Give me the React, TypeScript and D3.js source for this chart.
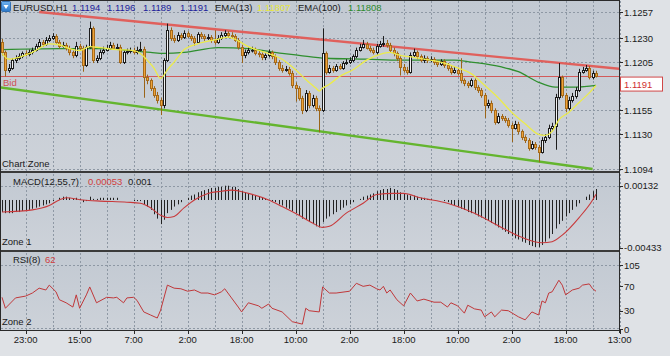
import React from "react";
import * as d3 from "d3";

const W = 670;
const H = 356;

// ---------- price data (H1 candles, open = previous close) ----------
const firstOpen = 1.1226;
const closes = [
  1.1215, 1.1197, 1.1199, 1.1207, 1.1209, 1.1211, 1.1214, 1.1213, 1.1215, 1.1218,
  1.1222, 1.1226, 1.1224, 1.1228, 1.1230, 1.1232, 1.1226, 1.1222, 1.1223, 1.1220,
  1.1215, 1.1212, 1.1222, 1.1220, 1.1202, 1.1221, 1.1240, 1.1207, 1.1209, 1.1215,
  1.1218, 1.1220, 1.1223, 1.1220, 1.1221, 1.1205, 1.1215, 1.1216, 1.1218, 1.1215,
  1.1218, 1.1219, 1.1189, 1.1186, 1.1178, 1.1171, 1.1166, 1.1160, 1.1207, 1.1238,
  1.1230, 1.1228, 1.1233, 1.1231, 1.1235, 1.1232, 1.1230, 1.1226, 1.1234, 1.1232,
  1.1230, 1.1231, 1.1228, 1.1226, 1.1230, 1.1233, 1.1235, 1.1233, 1.1232, 1.1228,
  1.1221, 1.1212, 1.1215, 1.1218, 1.1218, 1.1214, 1.1213, 1.1210, 1.1212, 1.1215,
  1.1211, 1.1205, 1.1199, 1.1197, 1.1198, 1.1194, 1.1181, 1.1178, 1.1168, 1.1155,
  1.1173, 1.1160, 1.1168, 1.1157, 1.1155, 1.1214, 1.1195, 1.1199, 1.1197, 1.1201,
  1.1199, 1.1204, 1.1205, 1.1207, 1.1211, 1.1218, 1.1221, 1.1224, 1.1220, 1.1218,
  1.1215, 1.1222, 1.1224, 1.1225, 1.1223, 1.1218, 1.1214, 1.1209, 1.1200, 1.1197,
  1.1195, 1.1212, 1.1215, 1.1211, 1.1207, 1.1209, 1.1207, 1.1208, 1.1205, 1.1203,
  1.1206, 1.1202, 1.1199, 1.1195, 1.1197, 1.1194, 1.1186, 1.1183, 1.1181, 1.1186,
  1.1179, 1.1176, 1.1171, 1.1160, 1.1163, 1.1155, 1.1143, 1.1149, 1.1147, 1.1145,
  1.1140, 1.1137, 1.1141, 1.1133, 1.1127, 1.1124, 1.1116, 1.1120, 1.1117, 1.1112,
  1.1124, 1.1127, 1.1137, 1.1139, 1.1169, 1.1189, 1.1171, 1.1157, 1.1166, 1.1170,
  1.1176, 1.1195, 1.1197, 1.1199, 1.1189, 1.1194, 1.1191,
];
const highs = [
  1.1229, 1.1217, 1.1203, 1.1209, 1.1212, 1.1214, 1.1216, 1.1217, 1.1218, 1.1220,
  1.1224, 1.1229, 1.1228, 1.1231, 1.1233, 1.1235, 1.1234, 1.1228, 1.1226, 1.1225,
  1.1222, 1.1217, 1.1226, 1.1224, 1.1222, 1.1223, 1.1247, 1.1242, 1.1212, 1.1218,
  1.1221, 1.1223, 1.1226, 1.1225, 1.1224, 1.1223, 1.1217, 1.1219, 1.1220, 1.1220,
  1.1221, 1.1226, 1.1221, 1.1192, 1.1188, 1.1180, 1.1174, 1.1168, 1.1209, 1.1245,
  1.1241, 1.1233, 1.1236, 1.1235, 1.1238, 1.1237, 1.1234, 1.1232, 1.1236, 1.1236,
  1.1234, 1.1234, 1.1233, 1.1238, 1.1233, 1.1236, 1.1238, 1.1237, 1.1236, 1.1234,
  1.1230, 1.1223, 1.1218, 1.1220, 1.1221, 1.1220, 1.1217, 1.1215, 1.1214, 1.1218,
  1.1217, 1.1213, 1.1207, 1.1202, 1.1201, 1.1200, 1.1196, 1.1184, 1.1180, 1.1170,
  1.1176, 1.1175, 1.1171, 1.1170, 1.1160, 1.1240, 1.1216, 1.1202, 1.1201, 1.1203,
  1.1203, 1.1206, 1.1208, 1.1210, 1.1213, 1.1220, 1.1224, 1.1228, 1.1226, 1.1222,
  1.1220, 1.1224, 1.1227, 1.1232, 1.1228, 1.1225, 1.1220, 1.1216, 1.1211, 1.1203,
  1.1200, 1.1215, 1.1219, 1.1217, 1.1213, 1.1212, 1.1211, 1.1211, 1.1210, 1.1207,
  1.1208, 1.1208, 1.1204, 1.1201, 1.1200, 1.1199, 1.1209, 1.1188, 1.1185, 1.1188,
  1.1188, 1.1181, 1.1178, 1.1173, 1.1166, 1.1165, 1.1157, 1.1152, 1.1151, 1.1149,
  1.1147, 1.1142, 1.1144, 1.1143, 1.1135, 1.1129, 1.1126, 1.1123, 1.1122, 1.1119,
  1.1127, 1.1130, 1.1140, 1.1142, 1.1172, 1.1204, 1.1191, 1.1173, 1.1169, 1.1173,
  1.1179, 1.1198, 1.1200, 1.1202, 1.1201, 1.1196, 1.1196,
];
const lows = [
  1.1212, 1.1190, 1.1194, 1.1197, 1.1204, 1.1207, 1.1209, 1.1211, 1.1211, 1.1213,
  1.1216, 1.1220, 1.1221, 1.1222, 1.1226, 1.1228, 1.1224, 1.1219, 1.1220, 1.1217,
  1.1212, 1.1209, 1.1210, 1.1217, 1.1195, 1.1200, 1.1219, 1.1204, 1.1204, 1.1207,
  1.1213, 1.1216, 1.1218, 1.1218, 1.1218, 1.1203, 1.1203, 1.1213, 1.1214, 1.1213,
  1.1213, 1.1216, 1.1168, 1.1182, 1.1175, 1.1168, 1.1162, 1.1150, 1.1157, 1.1205,
  1.1227, 1.1225, 1.1226, 1.1228, 1.1229, 1.1230, 1.1227, 1.1222, 1.1224, 1.1229,
  1.1227, 1.1228, 1.1225, 1.1223, 1.1224, 1.1228, 1.1231, 1.1230, 1.1229, 1.1226,
  1.1218, 1.1204, 1.1209, 1.1213, 1.1215, 1.1212, 1.1210, 1.1207, 1.1207, 1.1210,
  1.1208, 1.1202, 1.1196, 1.1194, 1.1195, 1.1191, 1.1178, 1.1164, 1.1165, 1.1151,
  1.1153, 1.1157, 1.1158, 1.1154, 1.1132, 1.1153, 1.1192, 1.1193, 1.1194, 1.1195,
  1.1197, 1.1197, 1.1202, 1.1203, 1.1205, 1.1209, 1.1216, 1.1219, 1.1218, 1.1215,
  1.1213, 1.1213, 1.1220, 1.1221, 1.1220, 1.1215, 1.1211, 1.1206, 1.1191, 1.1194,
  1.1192, 1.1193, 1.1210, 1.1208, 1.1205, 1.1204, 1.1204, 1.1205, 1.1202, 1.1200,
  1.1201, 1.1199, 1.1196, 1.1192, 1.1193, 1.1191, 1.1183, 1.1180, 1.1178, 1.1179,
  1.1176, 1.1173, 1.1168, 1.1147, 1.1157, 1.1152, 1.1140, 1.1141, 1.1144, 1.1142,
  1.1137, 1.1122, 1.1135, 1.1130, 1.1124, 1.1121, 1.1113, 1.1114, 1.1114, 1.1101,
  1.1110, 1.1121, 1.1125, 1.1134, 1.1114, 1.1166, 1.1168, 1.1153, 1.1155, 1.1163,
  1.1167, 1.1174, 1.1193, 1.1195, 1.1187, 1.1187, 1.1189,
];

// ---------- indicator readings (bar index, value) ----------
const ema13Bars = [0, 2, 5, 9, 14, 17, 20, 23, 26, 29, 34, 39, 41, 43, 45, 47, 49, 51, 54, 58, 63, 67, 70, 73, 78, 83, 87, 90, 93, 94, 95, 97, 100, 104, 108, 112, 115, 118, 122, 127, 131, 135, 139, 143, 147, 151, 155, 159, 161, 163, 165, 168, 171, 174, 176];
const ema13Vals = [1.1214, 1.1208, 1.1210, 1.1215, 1.1224, 1.1223, 1.1219, 1.1217, 1.1221, 1.1220, 1.1218, 1.1217, 1.1214, 1.1207, 1.1199, 1.1188, 1.1197, 1.1205, 1.1218, 1.1224, 1.1228, 1.1231, 1.1227, 1.1221, 1.1215, 1.1208, 1.1197, 1.1187, 1.1178, 1.1175, 1.1178, 1.1182, 1.1190, 1.1197, 1.1207, 1.1213, 1.1215, 1.1212, 1.1210, 1.1207, 1.1204, 1.1199, 1.1193, 1.1181, 1.1168, 1.1153, 1.1141, 1.1130, 1.1129, 1.1133, 1.1145, 1.1153, 1.1163, 1.1173, 1.11807];
const ema100Bars = [0, 17, 29, 44, 48, 54, 64, 73, 83, 88, 96, 108, 118, 134, 139, 148, 153, 159, 164, 170, 176];
const ema100Vals = [1.1218, 1.1219, 1.1219, 1.1215, 1.1214, 1.1215, 1.1220, 1.1219, 1.1214, 1.1212, 1.1209, 1.1208, 1.1207, 1.1207, 1.1205, 1.1200, 1.1195, 1.1184, 1.1179, 1.1179, 1.11808];

const macdHist = [
  -0.0011, -0.0012, -0.0012, -0.0012, -0.0011, -0.0011, -0.0010, -0.0010, -0.0009, -0.0008,
  -0.0007, -0.0006, -0.0005, -0.0004, -0.0003, -0.0001, 0.0000, 0.0002, 0.0003, 0.0003,
  0.0002, 0.0001, 0.0002, 0.0001, -0.0002, -0.0001, 0.0003, 0.0001, 0.0001, 0.0002,
  0.0002, 0.0002, 0.0002, 0.0002, 0.0002, 0.0000, 0.0000, 0.0000, 0.0000, -0.0001,
  -0.0001, -0.0001, -0.0004, -0.0006, -0.0009, -0.0013, -0.0017, -0.0022, -0.0018, -0.0012,
  -0.0009, -0.0006, -0.0004, -0.0002, 0.0000, 0.0002, 0.0004, 0.0005, 0.0007, 0.0008,
  0.0009, 0.0010, 0.0011, 0.0011, 0.0012, 0.0012, 0.0013, 0.0013, 0.0012, 0.0012,
  0.0010, 0.0008, 0.0007, 0.0006, 0.0005, 0.0004, 0.0003, 0.0002, 0.0001, 0.0000,
  -0.0001, -0.0002, -0.0004, -0.0005, -0.0007, -0.0008, -0.0010, -0.0012, -0.0014, -0.0017,
  -0.0018, -0.0020, -0.0022, -0.0024, -0.0025, -0.0020, -0.0017, -0.0015, -0.0013, -0.0011,
  -0.0009, -0.0007, -0.0005, -0.0004, -0.0002, 0.0000, 0.0001, 0.0003, 0.0004, 0.0005,
  0.0006, 0.0008, 0.0009, 0.0010, 0.0010, 0.0011, 0.0010, 0.0009, 0.0007, 0.0006,
  0.0005, 0.0004, 0.0004, 0.0003, 0.0002, 0.0002, 0.0001, 0.0001, 0.0000, 0.0000,
  0.0000, -0.0001, -0.0002, -0.0004, -0.0005, -0.0006, -0.0008, -0.0009, -0.0011, -0.0012,
  -0.0013, -0.0015, -0.0016, -0.0018, -0.0019, -0.0021, -0.0023, -0.0025, -0.0027, -0.0029,
  -0.0031, -0.0033, -0.0035, -0.0036, -0.0038, -0.0039, -0.0041, -0.0042, -0.0043, -0.0043,
  -0.0041, -0.0038, -0.0035, -0.0031, -0.0026, -0.0022, -0.0019, -0.0015, -0.0012, -0.0009,
  -0.0006, -0.0003, 0.0000, 0.0003, 0.0005, 0.0008, 0.0010,
];
const signalBars = [0, 9, 14, 17, 19, 24, 29, 37, 41, 44, 47, 49, 51, 54, 57, 61, 65, 68, 73, 79, 83, 88, 92, 95, 97, 102, 107, 111, 116, 119, 124, 132, 140, 148, 154, 160, 163, 166, 171, 175, 176];
const signalVals = [-0.0011, -0.0009, -0.0005, 0.0000, 0.0002, 0.0000, -0.0001, -0.0002, -0.0003, -0.0007, -0.0014, -0.0016, -0.0015, -0.0007, 0.0000, 0.0006, 0.0008, 0.0009, 0.0006, 0.0000, -0.0006, -0.0014, -0.0021, -0.0025, -0.0024, -0.0012, -0.0003, 0.0005, 0.0006, 0.0006, 0.0002, -0.0003, -0.0012, -0.0025, -0.0034, -0.0039, -0.0038, -0.0032, -0.0016, 0.0000, 0.00053];

const rsiBars = [0, 1, 4, 7, 9, 11, 13, 14, 16, 17, 19, 21, 22, 23, 25, 26, 28, 31, 33, 34, 36, 37, 39, 40, 42, 44, 46, 47, 49, 51, 53, 55, 57, 59, 61, 63, 65, 66, 68, 70, 71, 73, 76, 77, 79, 80, 83, 86, 89, 90, 91, 94, 95, 97, 99, 103, 105, 107, 109, 111, 112, 113, 114, 115, 117, 119, 121, 123, 125, 128, 130, 132, 133, 135, 137, 138, 140, 142, 143, 145, 146, 148, 150, 153, 155, 157, 159, 160, 161, 162, 163, 165, 166, 167, 169, 171, 172, 174, 175, 176];
const rsiVals = [52, 34, 51, 54, 59, 67, 64, 72, 61, 48, 43, 36, 56, 34, 56, 69, 43, 52, 51, 52, 43, 51, 52, 47, 28, 23, 18, 31, 72, 67, 66, 62, 64, 59, 59, 56, 61, 66, 51, 36, 28, 43, 38, 34, 41, 34, 28, 12, 8, 34, 30, 28, 69, 59, 59, 62, 75, 70, 72, 66, 64, 70, 59, 64, 48, 38, 59, 46, 49, 44, 44, 36, 43, 38, 26, 39, 33, 31, 20, 28, 20, 31, 30, 20, 15, 28, 23, 46, 43, 59, 61, 80, 72, 56, 64, 67, 72, 74, 66, 62];

// ---------- axes / annotations ----------
const priceTicks = [1.1257, 1.123, 1.1205, 1.1155, 1.113, 1.1094];
const bid = 1.1191;
const ohlcLabels = ["1.1194", "1.1196", "1.1189", "1.1191"];
const timeTickBars = [7, 23, 39, 55, 71, 87, 103, 119, 135, 151, 167, 183];
const timeTickLabels = ["23:00", "15:00", "7:00", "2:00", "18:00", "10:00", "2:00", "18:00", "10:00", "2:00", "18:00", "13:00"];
const macdTicks = [0.00132, -0.00433];
const rsiTicks = [105, 70, 30, 0];
const resistanceBars = [11, 183];
const resistancePrices = [1.1257, 1.1198];
const supportBars = [-1, 175];
const supportPrices = [1.1179, 1.1094];

const FONT = "'Liberation Sans', Arial, sans-serif";

export default function App() {
  const N = closes.length;
  const x = d3.scaleLinear().domain([0, N - 1]).range([2, 596]);
  const yP = d3.scaleLinear().domain([1.1094, 1.1257]).range([169, 12]);
  const yM = d3.scaleLinear().domain([-0.00433, 0.00132]).range([247.5, 185.5]);
  const yR = d3.scaleLinear().domain([0, 105]).range([329, 265]);

  const main = { top: 0, bottom: 171 };
  const macdP = { top: 173, bottom: 250 };
  const rsiP = { top: 252, bottom: 330 };
  const right = 619;

  const gridBars = d3.range(7, 184, 8);

  const opens = closes.map((c, i) => (i === 0 ? firstOpen : closes[i - 1]));

  const lineFromPairs = (bars: number[], vals: number[], ys: (v: number) => number, curve: any) =>
    d3.line<number>().x((_, i) => x(bars[i])).y((v) => ys(v)).curve(curve)(vals) || "";

  const ema13Path = lineFromPairs(ema13Bars, ema13Vals, yP, d3.curveMonotoneX);
  const ema100Path = lineFromPairs(ema100Bars, ema100Vals, yP, d3.curveMonotoneX);
  const signalPath = lineFromPairs(signalBars, signalVals, yM, d3.curveMonotoneX);
  const rsiPath = lineFromPairs(rsiBars, rsiVals, yR, d3.curveLinear);

  const panelRect = (p: { top: number; bottom: number }, key: string) => (
    <rect key={key} x={0} y={p.top} width={right} height={p.bottom - p.top} fill="url(#bg)" />
  );

  const vGrid = (p: { top: number; bottom: number }, key: string) => (
    <g key={key}>
      {gridBars.map((b) => (
        <line key={b} x1={Math.round(x(b)) + 0.5} x2={Math.round(x(b)) + 0.5} y1={p.top + 1} y2={p.bottom} stroke="#8e98a4" strokeDasharray="2,2" strokeWidth={1} />
      ))}
    </g>
  );

  return (
    <div style={{ position: "fixed", left: 0, top: 0, width: W, height: H, background: "#dfe2e6" }}>
      <svg width={W} height={H} style={{ display: "block", fontFamily: FONT }}>
        <defs>
          <linearGradient id="bg" x1="0" y1="0" x2="0" y2="1">
            <stop offset="0" stopColor="#c2c9d2" />
            <stop offset="1" stopColor="#cdd2d9" />
          </linearGradient>
          <linearGradient id="icon" x1="0" y1="0" x2="0" y2="1">
            <stop offset="0" stopColor="#6fb2ee" />
            <stop offset="1" stopColor="#2b78c8" />
          </linearGradient>
          <clipPath id="clipMain">
            <rect x={1} y={main.top + 1} width={right - 1} height={main.bottom - main.top - 1} />
          </clipPath>
        </defs>

        <rect x={0} y={0} width={W} height={H} fill="#dfe2e6" />

        {panelRect(main, "pm")}
        {panelRect(macdP, "pmacd")}
        {panelRect(rsiP, "prsi")}

        {vGrid(main, "gm")}
        {vGrid(macdP, "gmacd")}
        {vGrid(rsiP, "grsi")}

        {/* horizontal grid main */}
        {priceTicks.map((t) => (
          <line key={t} x1={1} x2={right} y1={Math.round(yP(t)) + 0.5} y2={Math.round(yP(t)) + 0.5} stroke="#8e98a4" strokeDasharray="2,2" />
        ))}
        <line x1={1} x2={right} y1={Math.round(yM(macdTicks[0])) + 0.5} y2={Math.round(yM(macdTicks[0])) + 0.5} stroke="#8e98a4" strokeDasharray="2,2" />
        <line x1={1} x2={right} y1={Math.round(yR(105)) + 0.5} y2={Math.round(yR(105)) + 0.5} stroke="#8e98a4" strokeDasharray="2,2" />
        <line x1={1} x2={right} y1={Math.round(yR(0)) - 0.5} y2={Math.round(yR(0)) - 0.5} stroke="#8e98a4" strokeDasharray="2,2" />

        <g clipPath="url(#clipMain)">
          {/* bid line */}
          <line x1={1} x2={right} y1={Math.round(yP(bid)) + 0.5} y2={Math.round(yP(bid)) + 0.5} stroke="#d25a5a" strokeWidth={1} />

          {/* trend lines */}
          <line x1={x(supportBars[0])} y1={yP(supportPrices[0])} x2={x(supportBars[1])} y2={yP(supportPrices[1])} stroke="#64b52e" strokeWidth={2.4} />
          <line x1={x(resistanceBars[0])} y1={yP(resistancePrices[0])} x2={x(resistanceBars[1])} y2={yP(resistancePrices[1])} stroke="#e0605c" strokeWidth={2.4} />

          {/* EMA100 */}
          <path d={ema100Path} fill="none" stroke="#2f8f2f" strokeWidth={1.3} />

          {/* candles */}
          {closes.map((c, i) => {
            const o = opens[i];
            const cx = Math.round(x(i));
            const bull = c >= o;
            const yTop = Math.round(yP(Math.max(o, c)));
            const yBot = Math.round(yP(Math.min(o, c)));
            const wick = bull ? "#1c1c1c" : "#9a6418";
            return (
              <g key={i}>
                <line x1={cx + 0.5} x2={cx + 0.5} y1={yP(highs[i])} y2={yP(lows[i])} stroke={wick} strokeWidth={1} />
                <rect
                  x={cx - 0.5}
                  y={yTop + 0.5}
                  width={2}
                  height={Math.max(yBot - yTop, 0.5)}
                  fill={bull ? "#f2f2f2" : "#eea33a"}
                  stroke={bull ? "#1c1c1c" : "#a66a1a"}
                  strokeWidth={1}
                />
              </g>
            );
          })}

          {/* EMA13 */}
          <path d={ema13Path} fill="none" stroke="#ecec4a" strokeWidth={1.3} />
        </g>

        {/* MACD */}
        {macdHist.map((v, i) => (
          <line key={i} x1={Math.round(x(i)) + 0.5} x2={Math.round(x(i)) + 0.5} y1={yM(0)} y2={yM(v)} stroke="#222" strokeWidth={1} />
        ))}
        <path d={signalPath} fill="none" stroke="#c8393b" strokeWidth={1.1} />

        {/* RSI */}
        <path d={rsiPath} fill="none" stroke="#c0383a" strokeWidth={1} />

        {/* panel borders and separators */}
        <rect x={0} y={0} width={right + 1} height={1} fill="#2a2a2a" />
        <rect x={0} y={main.bottom} width={right + 1} height={macdP.top - main.bottom} fill="#3a3a3a" />
        <rect x={0} y={macdP.bottom} width={right + 1} height={rsiP.top - macdP.bottom} fill="#3a3a3a" />
        <rect x={0} y={rsiP.bottom} width={right + 1} height={1} fill="#2a2a2a" />
        <rect x={0} y={0} width={1} height={rsiP.bottom + 1} fill="#2a2a2a" />

        {/* right axis */}
        <line x1={right + 0.5} x2={right + 0.5} y1={0} y2={rsiP.bottom + 3} stroke="#2a2a2a" />
        {priceTicks.map((t) => (
          <g key={t}>
            <line x1={right} x2={right + 4} y1={Math.round(yP(t)) + 0.5} y2={Math.round(yP(t)) + 0.5} stroke="#2a2a2a" />
            <text x={right + 5} y={yP(t) + 3.5} fontSize={9.5} fill="#1a1a1a">{t.toFixed(4)}</text>
          </g>
        ))}
        <rect x={right + 1.5} y={yP(bid) + 1.5} width={42} height={14} fill="#ffffff" stroke="#d04848" strokeWidth={1} />
        <text x={right + 5} y={yP(bid) + 12} fontSize={9.5} fill="#d03030">{bid.toFixed(4)}</text>

        {macdTicks.map((t) => (
          <g key={t}>
            <line x1={right} x2={right + 4} y1={Math.round(yM(t)) + 0.5} y2={Math.round(yM(t)) + 0.5} stroke="#2a2a2a" />
            <text x={right + 5} y={yM(t) + 3.5} fontSize={9.5} fill="#1a1a1a">{t.toFixed(5)}</text>
          </g>
        ))}
        {rsiTicks.map((t) => (
          <g key={t}>
            <line x1={right} x2={right + 4} y1={Math.round(yR(t)) + 0.5} y2={Math.round(yR(t)) + 0.5} stroke="#2a2a2a" />
            <text x={right + 5} y={yR(t) + 3.5} fontSize={9.5} fill="#1a1a1a">{t}</text>
          </g>
        ))}

        {/* time axis */}
        {timeTickBars.map((b, i) => (
          <g key={b}>
            <line x1={Math.round(x(b)) + 0.5} x2={Math.round(x(b)) + 0.5} y1={rsiP.bottom} y2={rsiP.bottom + 4} stroke="#2a2a2a" />
            <text x={x(b)} y={343} fontSize={9.5} fill="#1a1a1a" textAnchor="middle">{timeTickLabels[i]}</text>
          </g>
        ))}

        {/* title */}
        <rect x={1.5} y={1.5} width={9} height={10} rx={1} fill="url(#icon)" stroke="#1d5fa8" strokeWidth={0.8} />
        <path d="M3.5,5 L8.5,5 L6,9 Z" fill="#ffffff" />
        <text y={10.5} fontSize={9.5}>
          <tspan x={13} fill="#1a1a1a">EURUSD,H1</tspan>
          <tspan x={72} fill="#1c1c9a">{ohlcLabels[0]}</tspan>
          <tspan x={107} fill="#1c1c9a">{ohlcLabels[1]}</tspan>
          <tspan x={143} fill="#1c1c9a">{ohlcLabels[2]}</tspan>
          <tspan x={180} fill="#1c1c9a">{ohlcLabels[3]}</tspan>
          <tspan x={215} fill="#1a1a1a">EMA(13)</tspan>
          <tspan x={257} fill="#e8e83a">{ema13Vals[ema13Vals.length - 1].toFixed(5)}</tspan>
          <tspan x={298} fill="#1a1a1a">EMA(100)</tspan>
          <tspan x={348} fill="#2e8b2e">{ema100Vals[ema100Vals.length - 1].toFixed(5)}</tspan>
        </text>
        <text x={3} y={86} fontSize={9.5} fill="#d05050">Bid</text>
        <text x={2} y={167} fontSize={9.5} fill="#1a1a1a">Chart Zone</text>

        <text y={185} fontSize={9.5}>
          <tspan x={13} fill="#1a1a1a">MACD(12,55,7)</tspan>
          <tspan x={88} fill="#d04040">{signalVals[signalVals.length - 1].toFixed(5)}</tspan>
          <tspan x={128} fill="#1a1a1a">{macdHist[macdHist.length - 1].toFixed(3)}</tspan>
        </text>
        <text x={2} y={245} fontSize={9.5} fill="#1a1a1a">Zone 1</text>

        <text y={263} fontSize={9.5}>
          <tspan x={13} fill="#1a1a1a">RSI(8)</tspan>
          <tspan x={45} fill="#d04040">{rsiVals[rsiVals.length - 1]}</tspan>
        </text>
        <text x={2} y={325} fontSize={9.5} fill="#1a1a1a">Zone 2</text>
      </svg>
    </div>
  );
}
